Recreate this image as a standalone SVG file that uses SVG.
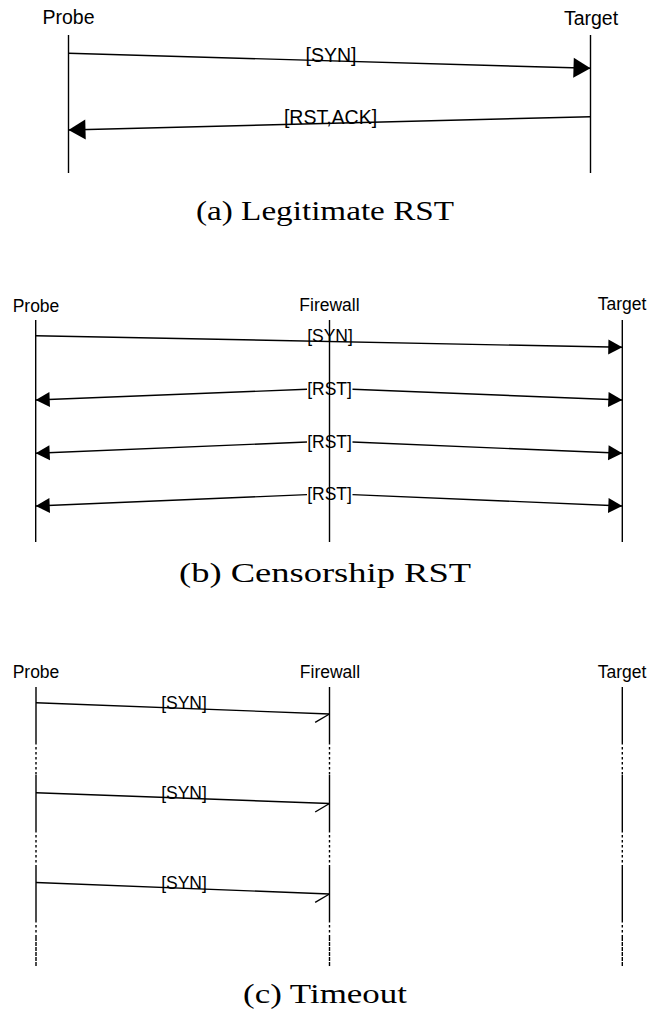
<svg xmlns="http://www.w3.org/2000/svg" width="650" height="1015" viewBox="0 0 650 1015">
<style>
.lbl{font-family:"Liberation Sans",Arial,sans-serif;fill:#000;text-anchor:middle}
.a{font-size:19.5px}
.b{font-size:17.5px}
.cap{font-family:"Liberation Serif","Times New Roman",serif;font-size:27px;fill:#000;text-anchor:middle}
.life{stroke:#000;stroke-width:1.4;fill:none}
.dot{stroke:#000;stroke-width:1.4;fill:none;stroke-dasharray:2.5,2.5}
.msg{stroke:#000;stroke-width:1.4;fill:none}
</style>
<defs>
<marker id="headA" markerUnits="userSpaceOnUse" markerWidth="18" markerHeight="21" refX="17" refY="10" orient="auto" overflow="visible"><path d="M0,0 L17,10 L0,20 z" fill="#000"/></marker>
<marker id="headB" markerUnits="userSpaceOnUse" markerWidth="15" markerHeight="16" refX="14" refY="7.5" orient="auto" overflow="visible"><path d="M0,0 L14,7.5 L0,15 z" fill="#000"/></marker>
<marker id="half" markerUnits="userSpaceOnUse" markerWidth="15" markerHeight="10" refX="14" refY="0" orient="auto" overflow="visible"><path d="M0,9 L14,0" stroke="#000" stroke-width="1.4" fill="none"/></marker>
</defs>

<!-- Panel (a) -->
<g id="a-probe"><text class="lbl a" x="68.5" y="24">Probe</text><line class="life" x1="68.5" y1="35" x2="68.5" y2="173"/></g>
<g id="a-target"><text class="lbl a" x="591" y="25">Target</text><line class="life" x1="590.5" y1="35" x2="590.5" y2="173"/></g>
<g id="a-connectors">
<line class="msg" x1="68.5" y1="53.3" x2="590.5" y2="68.3" marker-end="url(#headA)"/>
<text class="lbl a" x="331" y="61.5">[SYN]</text>
<line class="msg" x1="590.5" y1="116.7" x2="68.5" y2="130" marker-end="url(#headA)"/>
<text class="lbl a" x="330.5" y="124">[RST,ACK]</text>
</g>
<text class="cap" x="325" y="220" textLength="258" lengthAdjust="spacingAndGlyphs">(a) Legitimate RST</text>

<!-- Panel (b) -->
<g id="b-probe"><text class="lbl b" x="36" y="311.5">Probe</text><line class="life" x1="35.7" y1="320" x2="35.7" y2="542"/></g>
<g id="b-firewall"><line class="life" x1="329.5" y1="320" x2="329.5" y2="542"/><text class="lbl b" x="329.5" y="310.5">Firewall</text></g>
<g id="b-target"><text class="lbl b" x="622" y="310">Target</text><line class="life" x1="622.3" y1="320" x2="622.3" y2="542"/></g>
<g id="b-connectors">
<line class="msg" x1="35.7" y1="335.7" x2="622.3" y2="347.3" marker-end="url(#headB)"/>
<text class="lbl b" x="330" y="342">[SYN]</text>
<line class="msg" x1="307" y1="389.3" x2="35.7" y2="400" marker-end="url(#headB)"/>
<line class="msg" x1="352.5" y1="389.3" x2="622.3" y2="400" marker-end="url(#headB)"/>
<text class="lbl b" x="329.5" y="395">[RST]</text>
<line class="msg" x1="307" y1="442" x2="35.7" y2="453.3" marker-end="url(#headB)"/>
<line class="msg" x1="352.5" y1="442" x2="622.3" y2="453.3" marker-end="url(#headB)"/>
<text class="lbl b" x="329.5" y="447.7">[RST]</text>
<line class="msg" x1="307" y1="494.6" x2="35.7" y2="506" marker-end="url(#headB)"/>
<line class="msg" x1="352.5" y1="494.6" x2="622.3" y2="506" marker-end="url(#headB)"/>
<text class="lbl b" x="329.5" y="500.4">[RST]</text>
</g>
<text class="cap" x="325" y="582" textLength="292" lengthAdjust="spacingAndGlyphs">(b) Censorship RST</text>

<!-- Panel (c) -->
<g id="c-probe"><text class="lbl b" x="36" y="678">Probe</text>
<path class="life" d="M36,687 V742 M36,775 V830 M36,866 V920"/>
<path class="dot" d="M36,742 V775 M36,830 V866 M36,920 V937"/>
<path class="life" d="M36,937 V967" stroke-dasharray="4,1"/></g>
<g id="c-firewall"><text class="lbl b" x="330" y="678">Firewall</text>
<path class="life" d="M329.5,687 V742 M329.5,775 V830 M329.5,866 V920"/>
<path class="dot" d="M329.5,742 V775 M329.5,830 V866 M329.5,920 V937"/>
<path class="life" d="M329.5,937 V967" stroke-dasharray="4,1"/></g>
<g id="c-target"><text class="lbl b" x="622" y="678">Target</text>
<path class="life" d="M622.3,687 V742 M622.3,775 V830 M622.3,866 V920"/>
<path class="dot" d="M622.3,742 V775 M622.3,830 V866 M622.3,920 V937"/>
<path class="life" d="M622.3,937 V967" stroke-dasharray="4,1"/></g>
<g id="c-connectors">
<line class="msg" x1="36" y1="702.7" x2="329.5" y2="714" marker-end="url(#half)"/>
<text class="lbl b" x="184" y="708.5">[SYN]</text>
<line class="msg" x1="36" y1="792.7" x2="329.5" y2="803.5" marker-end="url(#half)"/>
<text class="lbl b" x="184" y="798.5">[SYN]</text>
<line class="msg" x1="36" y1="882.5" x2="329.5" y2="894" marker-end="url(#half)"/>
<text class="lbl b" x="184" y="888.5">[SYN]</text>
</g>
<text class="cap" x="325" y="1003" textLength="164" lengthAdjust="spacingAndGlyphs">(c) Timeout</text>
</svg>
